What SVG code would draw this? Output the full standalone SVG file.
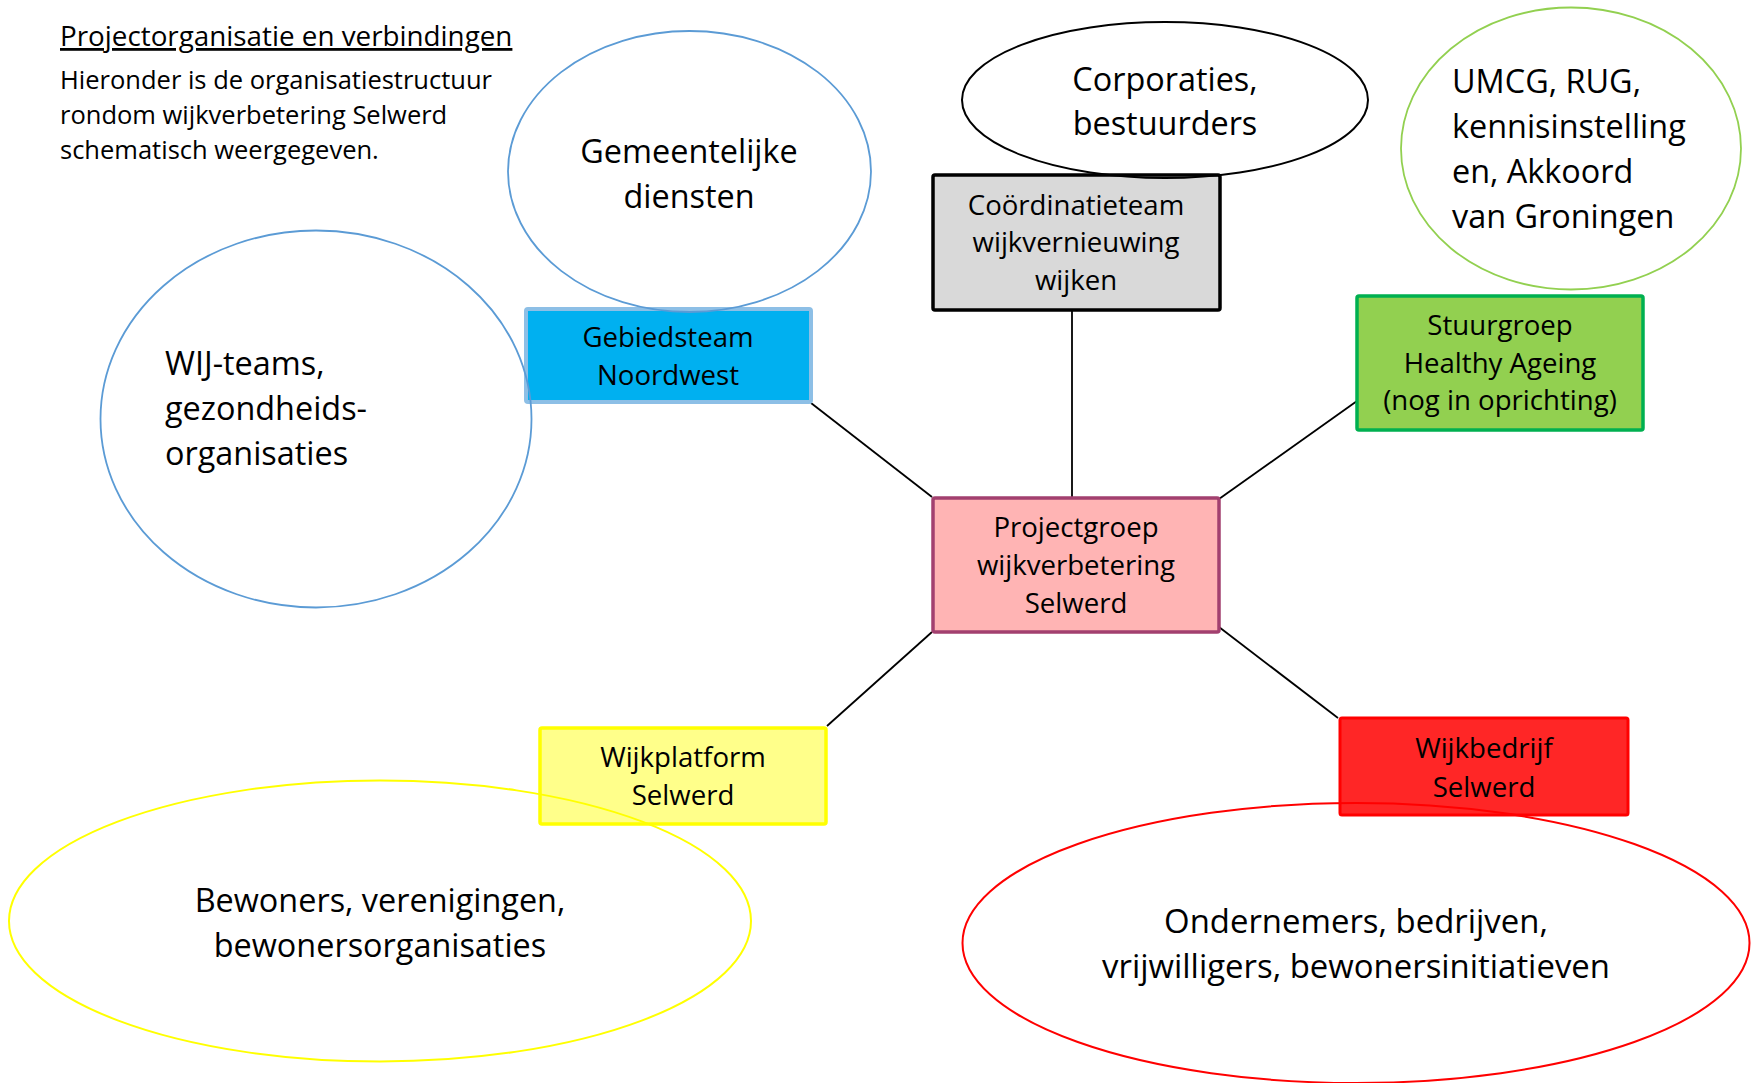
<svg xmlns="http://www.w3.org/2000/svg" width="1758" height="1083" viewBox="0 0 1758 1083">
<style>
  text { font-family: "Open Sans", "Noto Sans", "DejaVu Sans", sans-serif; fill: #000; }
  .title { font-size: 27.8px; text-decoration: underline; }
  .body { font-size: 25.5px; }
  .ell { font-size: 32.4px; }
  .box { font-size: 27.6px; text-anchor: middle; }
  .c { text-anchor: middle; }
  .conn line { stroke: #000; stroke-width: 1.8; }
  ellipse { fill: none; }
</style>
<rect x="0" y="0" width="1758" height="1083" fill="#fff"/>

<g id="intro">
  <text class="title" x="60" y="46">Projectorganisatie en verbindingen</text>
  <text class="body" x="60" y="89">Hieronder is de organisatiestructuur</text>
  <text class="body" x="60" y="124">rondom wijkverbetering Selwerd</text>
  <text class="body" x="60" y="159">schematisch weergegeven.</text>
</g>

<g id="connectors" class="conn">
  <line x1="811" y1="403" x2="932" y2="497"/>
  <line x1="1072" y1="310" x2="1072" y2="497"/>
  <line x1="1219" y1="499" x2="1357" y2="401"/>
  <line x1="932" y1="632" x2="827" y2="726"/>
  <line x1="1219" y1="627" x2="1338" y2="718"/>
</g>

<g id="gebiedsteam">
  <rect x="526" y="309" width="285" height="93" rx="2" fill="#00B0F0" stroke="#8DBFE6" stroke-width="4"/>
  <text class="box" x="668" y="347">Gebiedsteam</text>
  <text class="box" x="668" y="385">Noordwest</text>
</g>

<g id="coordinatieteam">
  <rect x="933" y="175" width="287" height="135" rx="2" fill="#D9D9D9" stroke="#000" stroke-width="3.5"/>
  <text class="box" x="1076" y="215">Coördinatieteam</text>
  <text class="box" x="1076" y="252">wijkvernieuwing</text>
  <text class="box" x="1076" y="290">wijken</text>
</g>

<g id="stuurgroep">
  <rect x="1357" y="296" width="286" height="134" rx="2" fill="#92D050" stroke="#00B050" stroke-width="3.5"/>
  <text class="box" x="1500" y="335">Stuurgroep</text>
  <text class="box" x="1500" y="373">Healthy Ageing</text>
  <text class="box" x="1500" y="410">(nog in oprichting)</text>
</g>

<g id="projectgroep">
  <rect x="933" y="498" width="286" height="134" rx="2" fill="#FFB4B4" stroke="#A2406F" stroke-width="3.5"/>
  <text class="box" x="1076" y="537">Projectgroep</text>
  <text class="box" x="1076" y="575">wijkverbetering</text>
  <text class="box" x="1076" y="613">Selwerd</text>
</g>

<g id="wijkplatform">
  <rect x="540" y="728" width="286" height="96" rx="2" fill="#FFFF8A" stroke="#FFFF00" stroke-width="3.5"/>
  <text class="box" x="683" y="767">Wijkplatform</text>
  <text class="box" x="683" y="805">Selwerd</text>
</g>

<g id="wijkbedrijf">
  <rect x="1340" y="718" width="288" height="97" rx="2" fill="#FF2626" stroke="#FF0000" stroke-width="3"/>
  <text class="box" x="1484" y="758">Wijkbedrijf</text>
  <text class="box" x="1484" y="797">Selwerd</text>
</g>

<g id="gemeentelijke-diensten">
  <ellipse cx="689.5" cy="171.5" rx="181.5" ry="140.5" stroke="#5B9BD5" stroke-width="1.8"/>
  <text class="ell c" x="689" y="163">Gemeentelijke</text>
  <text class="ell c" x="689" y="208">diensten</text>
</g>

<g id="corporaties">
  <ellipse cx="1165" cy="100" rx="203" ry="78" stroke="#000" stroke-width="2"/>
  <text class="ell c" x="1165" y="91">Corporaties,</text>
  <text class="ell c" x="1165" y="135">bestuurders</text>
</g>

<g id="umcg">
  <ellipse cx="1571" cy="148.5" rx="170" ry="141" stroke="#92D050" stroke-width="1.8"/>
  <text class="ell" x="1452" y="93">UMCG, RUG,</text>
  <text class="ell" x="1452" y="138">kennisinstelling</text>
  <text class="ell" x="1452" y="183">en, Akkoord</text>
  <text class="ell" x="1452" y="228">van Groningen</text>
</g>

<g id="wij-teams">
  <ellipse cx="316" cy="419" rx="215.5" ry="188.5" stroke="#5B9BD5" stroke-width="1.8"/>
  <text class="ell" x="165" y="375">WIJ-teams,</text>
  <text class="ell" x="165" y="420">gezondheids-</text>
  <text class="ell" x="165" y="465">organisaties</text>
</g>

<g id="bewoners">
  <ellipse cx="380" cy="921" rx="371" ry="140.5" stroke="#FFFF00" stroke-width="2"/>
  <text class="ell c" x="380" y="912">Bewoners, verenigingen,</text>
  <text class="ell c" x="380" y="957">bewonersorganisaties</text>
</g>

<g id="ondernemers">
  <ellipse cx="1356" cy="943" rx="393.5" ry="140" stroke="#FF0000" stroke-width="2"/>
  <text class="ell c" x="1356" y="933" style="font-size:32.9px">Ondernemers, bedrijven,</text>
  <text class="ell c" x="1356" y="978" style="font-size:32.9px">vrijwilligers, bewonersinitiatieven</text>
</g>
</svg>
